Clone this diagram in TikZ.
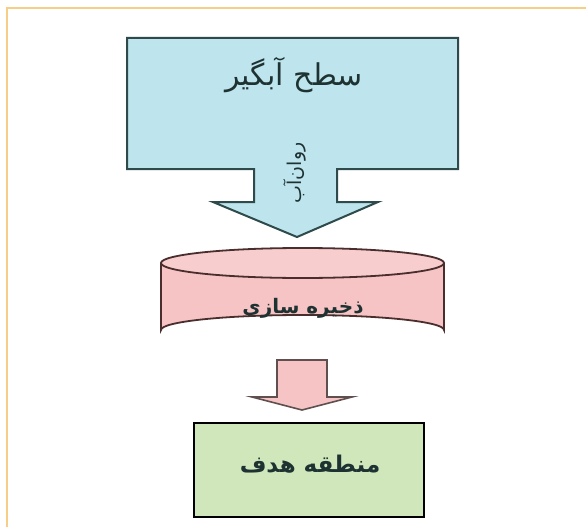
\documentclass[tikz,border=0pt]{standalone}
\usepackage{fontspec}
\TeXXeTstate=1
\newfontfamily\arabicfont[Script=Arabic]{DejaVu Sans}
\definecolor{frameor}{HTML}{F8CD85}
\definecolor{blfill}{HTML}{BEE4ED}
\definecolor{bldraw}{HTML}{2F4A4A}
\definecolor{pkfill}{HTML}{F6C4C5}
\definecolor{pkdraw}{HTML}{4A2E2E}
\definecolor{gnfill}{HTML}{CFE7BA}
\definecolor{txtc}{HTML}{1E3232}
\tikzset{
  lbl/.style={inner sep=0pt, text=txtc},
}
\begin{document}
\begin{tikzpicture}[x=1pt,y=-1pt]
\useasboundingbox (0,0) rectangle (586,527);
\fill[white] (0,0) rectangle (586,527);
% frame
\draw[frameor, line width=2pt] (7,527) -- (7,8) -- (586,8);
% top callout box with down arrow
\draw[bldraw, fill=blfill, line width=2pt, line join=miter]
  (127,38) -- (458,38) -- (458,169) -- (337,169) -- (337,202) -- (378,202)
  -- (297,237) -- (213,202) -- (254,202) -- (254,169) -- (127,169) -- cycle;
\node[lbl, font=\arabicfont\fontsize{30}{34}\selectfont] (catch) at (294,75) {\beginR سطح آبگیر\endR};
\node[lbl, rotate=90, font=\arabicfont\fontsize{19}{23}\selectfont] (runoff) at (295,173) {\beginR روان‌آب\endR};
% cylinder
\draw[pkdraw, fill=pkfill, line width=1.8pt]
  (161,263) -- (161,330) arc[start angle=180, end angle=360, x radius=141.5, y radius=15] -- (444,263);
\draw[pkdraw, fill=pkfill!85!white, line width=1.8pt] (302.5,263) ellipse[x radius=141.5, y radius=15];
\node[lbl, font=\arabicfont\bfseries\fontsize{20}{24}\selectfont] (store) at (303,308) {\beginR ذخیره سازی\endR};
% lower block arrow
\draw[pkdraw!60!gray, fill=pkfill, line width=1.6pt, line join=miter]
  (277,360) -- (327,360) -- (327,397) -- (352,397) -- (302,410) -- (252,397) -- (277,397) -- cycle;
% target box
\draw[black, fill=gnfill, line width=2pt] (194,423) rectangle (424,517);
\node[lbl, font=\arabicfont\bfseries\fontsize{23}{27}\selectfont] (target) at (310,464) {\beginR منطقه هدف\endR};
\end{tikzpicture}
\end{document}
